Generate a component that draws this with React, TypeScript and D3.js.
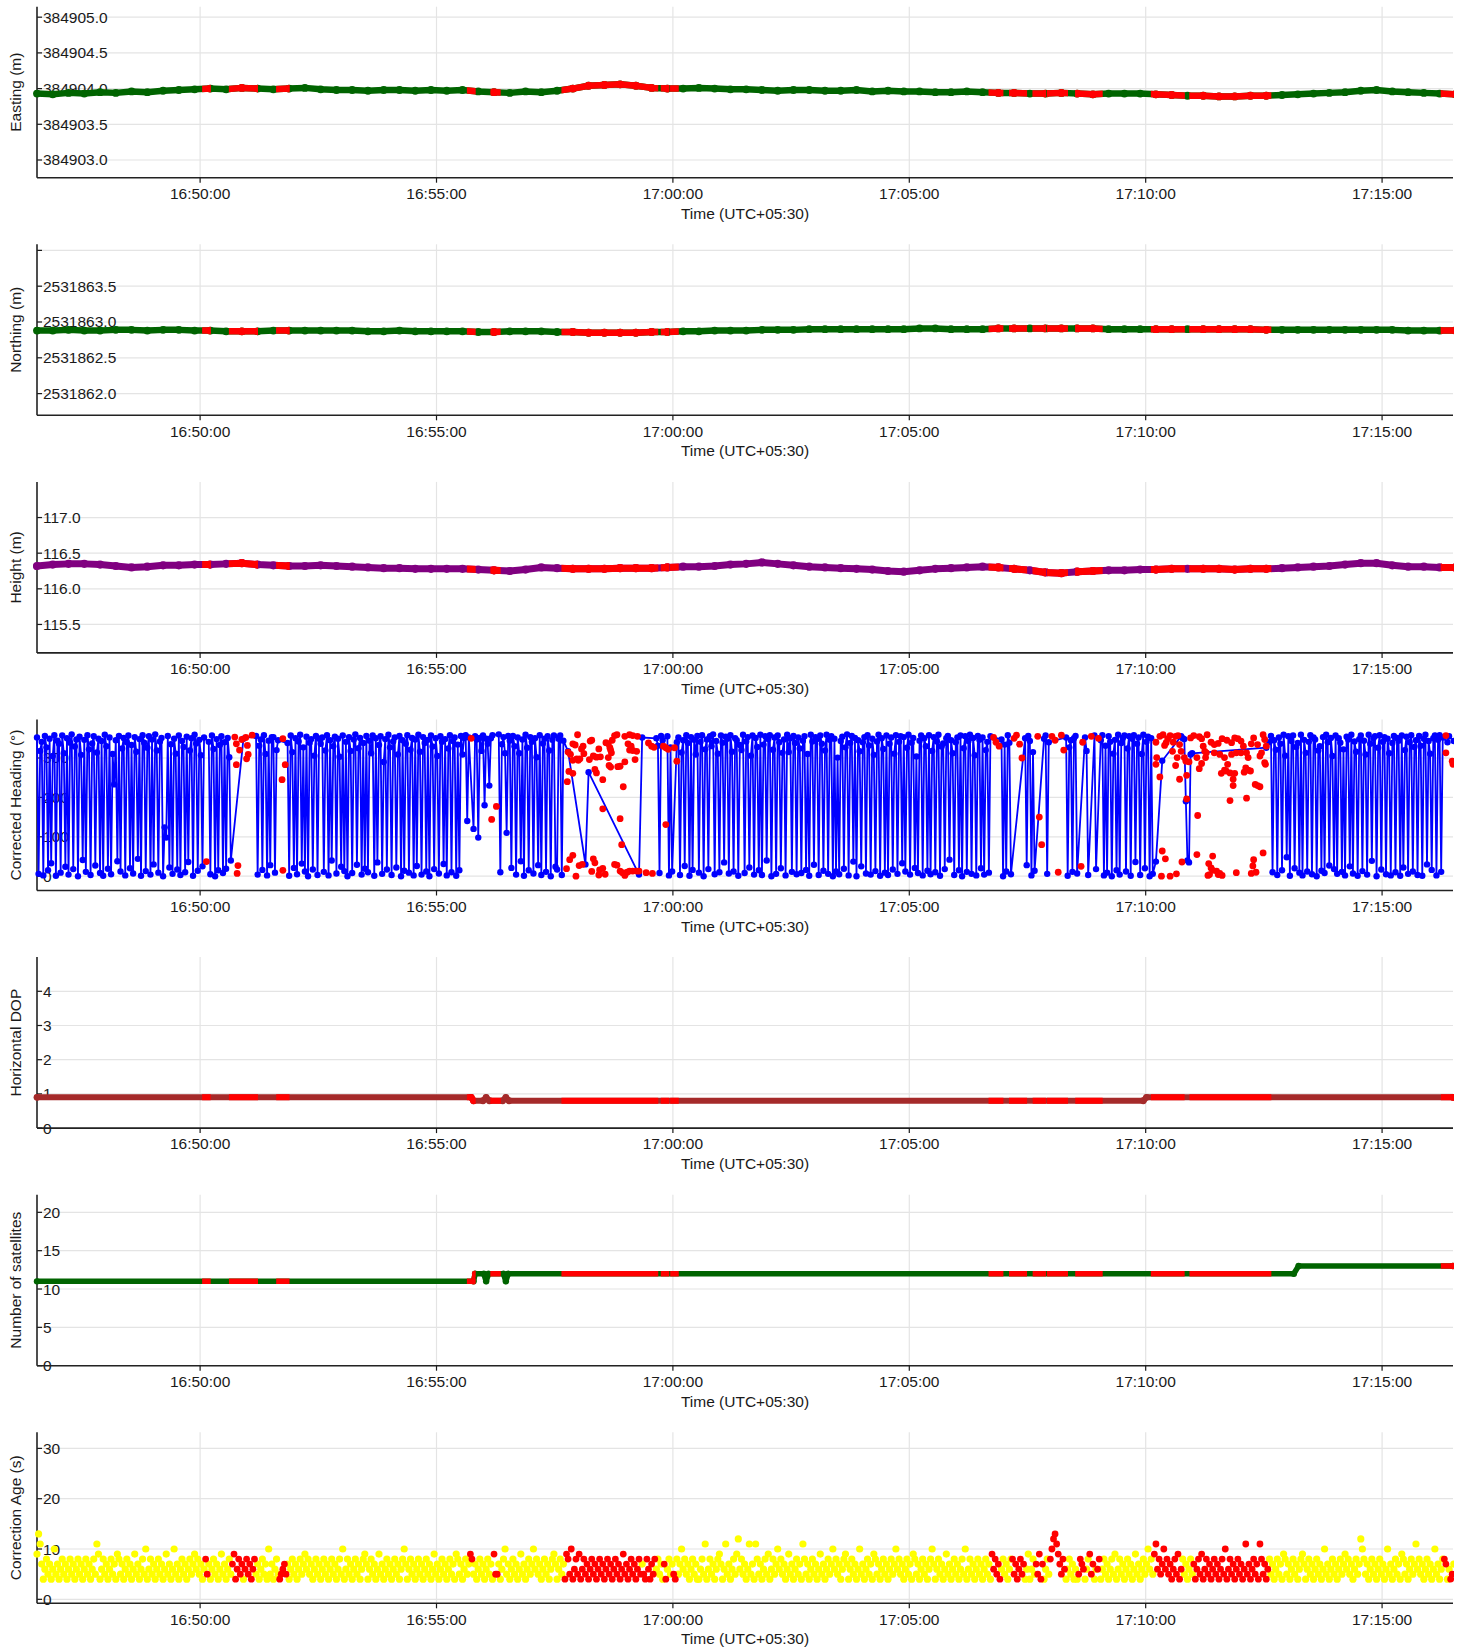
import React from "react";
import * as d3 from "d3";

const n = null;

// every time below is seconds after the first epoch, 16:46:33 (UTC+05:30)
const firstEpoch = Date.UTC(2023, 0, 1, 16, 46, 33);
const lastSec = 1797;

// position solution, one sample every 20 s
const solutionStep = 20;
const easting = [
  384903.93, 384903.92, 384903.94, 384903.93, 384903.95, 384903.94, 384903.96, 384903.95, 384903.97, 384903.98,
  384903.99, 384904.0, 384903.99, 384904.01, 384904.0, 384903.99, 384904.0, 384904.01, 384903.99, 384903.98,
  384903.98, 384903.97, 384903.98, 384903.98, 384903.97, 384903.98, 384903.97, 384903.98, 384903.96, 384903.95,
  384903.94, 384903.96, 384903.95, 384903.97, 384904.0, 384904.04, 384904.05, 384904.06, 384904.04, 384904.01,
  384904.0, 384904.0, 384904.01, 384904.0, 384903.99, 384903.99, 384903.98, 384903.97, 384903.98, 384903.98,
  384903.97, 384903.97, 384903.98, 384903.96, 384903.97, 384903.96, 384903.96, 384903.95, 384903.95, 384903.96,
  384903.95, 384903.94, 384903.94, 384903.93, 384903.93, 384903.94, 384903.93, 384903.92, 384903.93, 384903.93,
  384903.93, 384903.92, 384903.91, 384903.9, 384903.9, 384903.89, 384903.89, 384903.9, 384903.9, 384903.91,
  384903.92, 384903.93, 384903.94, 384903.95, 384903.97, 384903.98, 384903.96, 384903.95, 384903.94, 384903.93,
  384903.92,
];
const northing = [
  2531862.88, 2531862.88, 2531862.89, 2531862.88, 2531862.88, 2531862.89, 2531862.89, 2531862.88, 2531862.89, 2531862.89,
  2531862.88, 2531862.88, 2531862.87, 2531862.87, 2531862.87, 2531862.88, 2531862.88, 2531862.88, 2531862.88, 2531862.88,
  2531862.88, 2531862.87, 2531862.87, 2531862.88, 2531862.87, 2531862.87, 2531862.87, 2531862.87, 2531862.86, 2531862.86,
  2531862.87, 2531862.87, 2531862.87, 2531862.86, 2531862.86, 2531862.85, 2531862.85, 2531862.85, 2531862.85, 2531862.86,
  2531862.86, 2531862.87, 2531862.87, 2531862.88, 2531862.88, 2531862.88, 2531862.89, 2531862.89, 2531862.89, 2531862.9,
  2531862.9, 2531862.9, 2531862.9, 2531862.9, 2531862.9, 2531862.9, 2531862.91, 2531862.91, 2531862.9, 2531862.9,
  2531862.9, 2531862.91, 2531862.91, 2531862.91, 2531862.91, 2531862.91, 2531862.91, 2531862.91, 2531862.9, 2531862.9,
  2531862.9, 2531862.9, 2531862.9, 2531862.9, 2531862.9, 2531862.9, 2531862.9, 2531862.9, 2531862.89, 2531862.89,
  2531862.89, 2531862.89, 2531862.89, 2531862.89, 2531862.89, 2531862.89, 2531862.89, 2531862.88, 2531862.88, 2531862.88,
  2531862.88,
];
const heightM = [
  116.32, 116.34, 116.35, 116.35, 116.34, 116.32, 116.3, 116.31, 116.33, 116.33,
  116.34, 116.34, 116.35, 116.36, 116.34, 116.33, 116.32, 116.32, 116.33, 116.32,
  116.31, 116.3, 116.29, 116.29, 116.28, 116.28, 116.28, 116.28, 116.27, 116.26,
  116.25, 116.27, 116.3, 116.29, 116.28, 116.28, 116.28, 116.29, 116.29, 116.29,
  116.3, 116.31, 116.31, 116.32, 116.34, 116.35, 116.37, 116.35, 116.33, 116.31,
  116.3, 116.29, 116.28, 116.27, 116.25, 116.24, 116.26, 116.28, 116.29, 116.3,
  116.31, 116.3, 116.28, 116.26, 116.23, 116.22, 116.24, 116.25, 116.26, 116.26,
  116.27, 116.27, 116.28, 116.28, 116.28, 116.28, 116.27, 116.28, 116.28, 116.29,
  116.3, 116.31, 116.32, 116.34, 116.36, 116.36, 116.33, 116.31, 116.31, 116.3,
  116.3,
];

// step-wise series: change points
const hdopSec = [0, 551, 554, 566, 570, 574, 591, 595, 599, 1404, 1408, 1797];
const hdopVal = [0.9, 0.9, 0.8, 0.8, 0.9, 0.8, 0.8, 0.9, 0.8, 0.8, 0.9, 0.9];
const satSec = [0, 554, 556, 567, 570, 573, 592, 595, 598, 1595, 1601, 1797];
const satVal = [11, 11, 12, 12, 11, 12, 12, 11, 12, 12, 13, 13];

// corrected heading of the unflagged epochs, one sample every 2 s (one row per minute)
const headingStep = 2;
const headingGood = [
  352, 6, 318, 341, 2, 356, 327, 15, 349, 33, 305, 358, 1, 344, 336, 9, 357, 312, 24, 350, 4, 339, 360, 18, 329, 347, 0, 354, 308, 41,
  346, 11, 358, 322, 3, 337, 355, 27, 314, 349, 8, 343, 1, 359, 330, 19, 352, 5, 310, 233, 345, 38, 356, 12, 324, 351, 2, 340, 357, 20,
  333, 7, 353, 316, 44, 348, 1, 358, 339, 13, 326, 355, 4, 347, 30, 360, 319, 9, 342, 351, 0, 124, 98, 356, 22, 335, 6, 349, 311, 17,
  357, 3, 343, 328, 10, 354, 36, 319, 350, 1, 359, 337, 14, 346, 307, 25, 352, n, n, 341, 5, 357, 323, 0, 348, 15, 333, 355, 8, 340,
  19, 351, 302, 40, n, n, n, n, n, n, n, 349, n, n, n, n, n, n, n, 356, 4, 331, 347, 16, 358, 310, 2, 344, 28, 353,
  353, 9, 320, 345, n, n, n, n, n, 338, 1, 357, 315, 21, 350, 5, 342, 359, 32, 327, 12, 354, 0, 339, 348, 17, 306, 356, 3, 349,
  336, 352, 11, 319, 358, 2, 345, 40, 330, 354, 7, 349, 303, 24, 357, 13, 341, 0, 353, 318, 8, 347, 360, 29, 325, 351, 4, 338, 19, 356,
  10, 344, 312, 357, 1, 350, 35, 333, 355, 6, 290, 348, 17, 359, 327, 3, 342, 352, 22, 309, 356, 0, 345, 14, 336, 358, 9, 321, 351, 2,
  347, 26, 359, 316, 4, 353, 338, 12, 346, 0, 357, 329, 18, 350, 305, 7, 355, 341, 31, 348, 2, 324, 358, 10, 343, 352, 1, 334, 15, 356,
  309, 351, 358, 140, 352, n, n, 120, 355, 347, 98, 351, 318, 357, 180, 349, 336, 230, 350, 358, n, n, n, 360, 10, 335, 353, 312, 110, 356,
  344, 21, 356, 330, 4, 352, 312, 38, 347, 1, 359, 326, 15, 353, 341, 7, 350, 302, 28, 358, 3, 337, 349, 11, 355, 319, 0, 346, 357, 24,
  17, 349, 357, 3, 344, n, n, 317, n, n, n, n, n, n, n, n, n, n, 30, n, 264, n, n, n, n, n, n, n, n, n,
  n, n, n, n, n, n, n, n, n, n, n, n, n, n, n, n, n, n, n, n, n, n, 4, n, 352, n, n, n, n, n,
  n, n, n, 350, 331, 8, 356, 345, n, n, 355, 2, 327, 12, n, n, 340, 352, 3, 314, 345, 26, 358, 338, 1, 353, 16, 346, 309, 356,
  9, 341, 358, 0, 322, 347, 18, 355, 330, 360, 5, 343, 311, 10, 357, 339, 35, 354, 349, 7, 358, 316, 12, 350, 345, 1, 333, 320, 359, 8,
  342, 353, 22, 306, 357, 4, 351, 328, 15, 359, 3, 334, 355, 40, 348, 358, 0, 321, 352, 6, 357, 340, 20, 313, 347, 2, 359, 315, 350, 11,
  356, 338, 5, 352, 324, 8, 344, 355, 16, 310, 1, 359, 342, 29, 353, 348, 3, 357, 336, 14, 319, 359, 6, 346, 355, 0, 349, 12, 301, 5,
  343, 354, 19, 327, 360, 2, 338, 356, 37, 351, 0, 345, 317, 25, 340, 353, 7, 358, 332, 4, 349, 308, 13, 342, 359, 1, 350, 323, 9, 357,
  3, 336, 352, 17, 311, 358, 6, 341, 355, 33, 353, 12, 326, 359, 4, 339, 351, 21, 304, 8, 344, 357, 2, 350, 330, 14, 358, 5, 318, 353,
  10, 342, 359, 1, 329, 337, 18, 350, 356, 42, 345, 312, 3, 340, 352, 15, 357, 0, 325, 355, 11, 343, 359, 6, 351, 307, 2, 356, 346, 20,
  352, 4, 320, 341, 9, 355, n, n, n, n, n, n, 347, 0, 334, 12, 358, 339, 5, n, n, n, n, n, n, n, n, 350, 28, 356,
  343, 2, 315, 14, n, n, n, n, n, 349, 357, 6, 340, n, n, n, n, n, n, n, n, n, n, 352, 1, 327, 345, 11, 350, 356,
  7, n, n, n, n, 352, 318, 3, n, n, n, 357, 18, n, n, 345, 358, 2, 331, 9, 355, 341, 0, 311, 346, 15, 359, 4, 338, 351,
  357, 12, 324, 355, 1, 349, 358, 36, 336, 352, 3, 310, 359, 20, 341, 354, 0, 350, 6, n, 37, n, n, n, 293, n, n, n, n, n,
  n, n, n, n, n, n, 355, 350, 348, 190, 40, 35, 309, 312, n, n, n, n, n, n, n, n, n, n, n, n, n, n, n, n,
  n, n, n, n, n, n, n, n, n, n, n, n, n, n, n, n, n, n, n, n, n, n, n, n, n, n, n, n, n, n,
  326, n, 340, 356, 10, 345, 321, 3, 352, 336, 15, 359, 306, 48, 355, 1, 343, 357, 20, 328, 338, 9, 359, 2, 346, 313, 12, 341, 358, 5,
  352, 347, 0, 319, 330, 14, 353, 8, 359, 340, 27, 351, 305, 18, 357, 6, 350, 339, 11, 322, 2, 354, 347, 25, 359, 7, 342, 316, 1, 348,
  357, 13, 344, 309, 4, 359, 336, 39, 350, 355, 0, 326, 358, 17, 341, 353, 5, 349, 312, 2, 338, 356, 10, 351, 344, 1, 357, 22, 320, 354,
  6, 340, 358, 12, 328, 345, 3, 356, 331, 1, 349, 359, 30, 343, 311, 16, 350, 357, 2, 346, 358, 11, 352, n, n, 340, 355, n, n, 343,
];

// heading of the flagged epochs
const headingBadSec = [
  215, 251, 253, 254, 255, 253, 257, 260, 265, 266, 267, 268, 273, 311, 312, 312, 315,
  551, 577, 583,
  686, 680, 683, 674, 677, 680, 675, 680, 673, 693, 691, 694, 689, 687, 685, 702, 704, 701, 706, 710,
  715, 713, 722, 725, 727, 730, 733, 736, 728, 729, 725, 726, 728, 737, 740, 746, 746, 752, 756, 762,
  750, 752, 756, 759, 754, 761, 708, 710, 718, 744, 718, 740, 742, 680, 676, 672, 684, 688, 692, 706,
  708, 704, 713, 714, 718, 721, 733, 736, 740, 743, 746, 749, 752, 756, 761, 764, 773, 781, 776, 780,
  783, 795, 798, 801, 798, 809, 812,
  1214, 1217, 1221, 1240, 1243, 1247, 1250, 1270, 1272, 1275, 1288, 1292, 1296, 1300, 1303, 1325, 1327, 1338, 1347,
  1420, 1425, 1429, 1433, 1431, 1435, 1438, 1442, 1445, 1448, 1441, 1450, 1452, 1447, 1421, 1420, 1425, 1450, 1445, 1456,
  1458, 1462, 1459, 1459, 1464, 1468, 1475, 1478, 1485, 1480, 1482, 1483, 1472, 1475, 1478, 1484, 1490, 1494, 1499, 1504,
  1510, 1516, 1520, 1524, 1528, 1531, 1535, 1494, 1501, 1507, 1516, 1522, 1528, 1537, 1541, 1544, 1549, 1556, 1558, 1560,
  1554, 1552, 1558, 1511, 1509, 1503, 1507, 1514, 1520, 1518, 1518, 1534, 1537, 1532, 1540, 1546, 1549, 1552, 1514, 1535,
  1473, 1428, 1432, 1453, 1472, 1487, 1492, 1490, 1486, 1492, 1497, 1499, 1501, 1504, 1488, 1522, 1541, 1547, 1543, 1544,
  1556, 1427, 1438, 1446, 1559,
  1788, 1788, 1796, 1797,
];
const headingBadDeg = [
  37, 353, 336, 7, 27, 283, 320, 347, 352, 298, 332, 309, 358, 245, 349, 15, 283,
  350, 144, 177,
  359, 336, 333, 315, 309, 294, 266, 261, 240, 330, 323, 311, 298, 294, 298, 343, 345, 296, 305, 302,
  303, 323, 339, 336, 326, 345, 357, 359, 320, 313, 301, 281, 277, 278, 279, 290, 355, 359, 357, 355,
  336, 320, 319, 296, 330, 317, 271, 262, 245, 227, 171, 146, 80, 53, 42, 19, 0, 27, 30, 44,
  34, 12, 3, 16, 20, 5, 30, 28, 13, 9, 2, 10, 13, 13, 13, 13, 9, 7, 338, 330,
  327, 330, 326, 322, 131, 326, 292,
  352, 340, 330, 350, 358, 335, 300, 355, 150, 80, 355, 345, 10, 358, 320, 25, 340, 355, 350,
  340, 355, 359, 339, 332, 349, 357, 340, 355, 357, 317, 334, 317, 301, 301, 284, 252, 246, 281, 301,
  292, 290, 256, 196, 351, 357, 354, 349, 359, 330, 317, 301, 301, 273, 286, 313, 340, 334, 337, 349,
  345, 339, 351, 349, 343, 330, 313, 313, 309, 301, 309, 313, 313, 301, 336, 351, 334, 359, 347, 330,
  313, 305, 288, 284, 267, 261, 269, 262, 261, 246, 230, 275, 269, 264, 267, 233, 230, 227, 192, 198,
  154, 64, 44, 36, 55, 32, 51, 21, 2, 15, 13, 4, 7, 2, 4, 9, 7, 10, 26, 42,
  59, 0, 0, 6, 284,
  357, 313, 292, 284,
];

// correction age, one sample every 2 s (one row per minute)
const ageStep = 2;
const correctionAge = [
  9, 13, 11, 7, 4, 6, 8, 5, 7, 4, 6, 10, 5, 7, 4, 6, 8, 5, 7, 4, 6, 8, 5, 7, 4, 6, 8, 5, 7, 4,
  6, 8, 5, 7, 4, 6, 8, 5, 11, 9, 4, 6, 8, 5, 7, 4, 6, 8, 5, 7, 4, 9, 8, 5, 7, 4, 6, 8, 5, 7,
  4, 6, 9, 5, 7, 4, 6, 8, 5, 10, 4, 6, 8, 5, 7, 4, 6, 8, 5, 7, 4, 6, 9, 5, 7, 4, 6, 10, 5, 7,
  4, 6, 8, 5, 7, 4, 6, 8, 5, 7, 9, 6, 8, 5, 7, 4, 6, 8, 5, 7, 4, 6, 8, 5, 7, 4, 6, 9, 5, 7,
  4, 6, 8, 5, 7, 9, 4, 6, 8, 5, 7, 4, 6, 8, 5, 7, 4, 6, 8, 5, 7, 4, 6, 8, 5, 7, 4, 10, 5, 7,
  4, 6, 8, 5, 4, 5, 6, 7, 5, 7, 4, 6, 8, 5, 7, 4, 6, 8, 5, 7, 9, 6, 8, 5, 7, 4, 6, 8, 5, 7,
  4, 6, 8, 5, 7, 4, 6, 8, 5, 7, 4, 6, 8, 5, 10, 4, 6, 8, 5, 7, 4, 6, 8, 5, 7, 4, 6, 8, 9, 7,
  4, 6, 8, 5, 7, 4, 6, 9, 5, 7, 4, 6, 8, 5, 7, 4, 6, 8, 5, 7, 4, 6, 8, 10, 7, 4, 6, 8, 5, 7,
  4, 6, 8, 5, 7, 4, 6, 8, 5, 7, 4, 6, 9, 5, 7, 4, 6, 8, 5, 7, 4, 6, 8, 5, 7, 4, 9, 8, 5, 7,
  4, 6, 8, 5, 7, 9, 8, 5, 7, 4, 6, 8, 5, 7, 4, 6, 8, 5, 7, 4, 9, 5, 5, 7, 4, 6, 8, 10, 5, 7,
  4, 6, 8, 5, 7, 4, 6, 9, 5, 7, 4, 6, 8, 5, 7, 10, 6, 8, 5, 7, 4, 6, 8, 5, 7, 4, 6, 8, 9, 7,
  4, 6, 8, 5, 7, 4, 9, 8, 5, 10, 4, 6, 8, 5, 9, 4, 6, 8, 5, 7, 4, 6, 8, 5, 7, 4, 6, 8, 5, 7,
  4, 6, 8, 5, 7, 4, 6, 8, 5, 7, 4, 6, 9, 5, 7, 4, 6, 8, 5, 7, 4, 6, 8, 5, 7, 5, 4, 8, 6, 4,
  7, 5, 8, 6, 8, 5, 7, 4, 7, 4, 6, 8, 5, 7, 5, 4, 8, 5, 7, 10, 6, 8, 5, 7, 4, 6, 8, 5, 7, 4,
  4, 6, 8, 5, 11, 4, 6, 8, 5, 7, 4, 6, 8, 9, 7, 4, 6, 11, 5, 7, 4, 6, 8, 5, 9, 12, 6, 8, 5, 7,
  4, 6, 11, 5, 7, 4, 11, 8, 5, 7, 4, 6, 8, 5, 9, 4, 6, 8, 5, 7, 10, 6, 8, 5, 7, 4, 6, 9, 5, 7,
  4, 6, 8, 5, 7, 4, 11, 8, 5, 7, 4, 6, 8, 5, 7, 4, 6, 9, 5, 7, 4, 6, 8, 5, 7, 10, 6, 8, 5, 7,
  4, 6, 8, 9, 7, 4, 6, 8, 5, 7, 4, 6, 10, 5, 7, 4, 6, 8, 5, 7, 4, 9, 8, 5, 7, 4, 6, 8, 5, 7,
  4, 6, 8, 5, 7, 10, 6, 8, 5, 7, 4, 6, 8, 5, 7, 4, 9, 8, 5, 7, 4, 6, 8, 5, 7, 4, 6, 8, 10, 7,
  4, 6, 8, 5, 7, 4, 6, 9, 5, 7, 4, 6, 8, 5, 7, 4, 6, 8, 5, 10, 4, 6, 8, 5, 7, 4, 6, 8, 5, 7,
  4, 6, 8, 5, 7, 4, 9, 6, 8, 5, 7, 4, 6, 8, 5, 7, 4, 6, 8, 8, 5, 7, 4, 6, 8, 5, 7, 4, 6, 9,
  4, 6, 8, 5, 7, 5, 9, 4, 7, 4, 6, 8, 5, 8, 10, 12, 13, 11, 9, 7, 5, 8, 6, 4, 6, 8, 5, 7, 4, 6,
  4, 5, 8, 7, 6, 4, 6, 8, 9, 5, 7, 4, 6, 6, 8, 4, 6, 8, 5, 7, 4, 6, 8, 5, 9, 4, 6, 8, 5, 7,
  4, 6, 8, 5, 7, 4, 6, 9, 5, 7, 4, 6, 8, 5, 7, 10, 6, 8, 5, 9, 11, 6, 8, 5, 7, 10, 6, 8, 5, 7,
  4, 6, 8, 5, 9, 4, 6, 8, 5, 7, 4, 6, 8, 5, 7, 4, 6, 8, 5, 9, 4, 6, 8, 5, 7, 4, 6, 8, 5, 7,
  4, 6, 8, 5, 10, 4, 6, 8, 5, 7, 4, 6, 8, 5, 7, 4, 6, 11, 5, 7, 4, 6, 8, 5, 7, 4, 11, 8, 5, 7,
  4, 6, 8, 5, 7, 4, 6, 8, 5, 7, 4, 9, 8, 5, 7, 4, 6, 8, 5, 7, 4, 6, 8, 9, 7, 4, 6, 8, 5, 7,
  4, 6, 8, 5, 7, 4, 6, 10, 5, 7, 4, 6, 8, 5, 7, 4, 6, 8, 5, 7, 9, 6, 8, 5, 7, 4, 6, 8, 5, 7,
  12, 10, 8, 5, 7, 4, 6, 8, 5, 7, 4, 6, 8, 5, 7, 4, 6, 10, 5, 7, 4, 6, 8, 5, 7, 4, 9, 8, 5, 7,
  4, 6, 8, 5, 7, 11, 6, 8, 5, 7, 4, 6, 8, 5, 7, 4, 6, 10, 5, 7, 4, 6, 8, 8, 7, 4, 6, 4, 5, 7,
];

// epochs flagged by the quality check [from, to]
const flaggedSec = [
  [214, 216], [248, 260], [264, 276], [308, 316], [550, 552], [580, 584], [670, 698], [700, 766],
  [770, 784], [796, 798], [808, 810], [1212, 1222], [1238, 1252], [1268, 1276], [1286, 1304],
  [1322, 1328], [1336, 1340], [1346, 1348], [1418, 1452], [1467, 1562], [1786, 1788], [1794, 1797],
];

const eastingTicks = [384903.0, 384903.5, 384904.0, 384904.5, 384905.0];
const northingTicks = [2531862.0, 2531862.5, 2531863.0, 2531863.5, 2531864.0];
const heightTicks = [115.5, 116.0, 116.5, 117.0];
const headingTicks = [0, 100, 200, 300];
const hdopTicks = [0, 1, 2, 3, 4];
const satTicks = [0, 5, 10, 15, 20];
const ageTicks = [0, 10, 20, 30];

// layout
const W = 1464;
const H = 1650;
const left = 37;
const right = 1453;
const firstBottom = 177.7;
const panelStep = 237.6;
const plotH = 171;
const FONT = '"Liberation Sans", Arial, Helvetica, sans-serif';
const FS = 15.5;
const GRID = "#e4e4e4";
const INK = "#1a1a1a";
const RED = "#ff0000";

const at = (s: number) => new Date(firstEpoch + s * 1000);
const x = d3.scaleUtc().domain([at(0), at(lastSec)]).range([left, right]);
const xTicks = x.ticks(d3.utcMinute.every(5) as any);
const timeFmt = d3.utcFormat("%H:%M:%S");
const f1 = d3.format(".1f");
const f0 = d3.format("d");
const isFlagged = (s: number) => flaggedSec.some(([a, b]) => s >= a && s <= b);

type Scale = d3.ScaleLinear<number, number>;

function Panel({ i, domain, ticks, fmt, label, children }: {
  i: number; domain: number[]; ticks: number[]; fmt: (v: number) => string; label: string;
  children: (y: Scale) => React.ReactNode;
}) {
  const bottom = firstBottom + i * panelStep;
  const top = bottom - plotH;
  const y = d3.scaleLinear().domain(domain).range([bottom, top]);
  const mid = (top + bottom) / 2;
  return (
    <g>
      <defs>
        <clipPath id={`plot${i}`}>
          <rect x={left - 4} y={top - 4} width={right - left + 5} height={plotH + 8} />
        </clipPath>
      </defs>
      {xTicks.map((t) => (
        <line key={+t} x1={x(t)} x2={x(t)} y1={top} y2={bottom} stroke={GRID} strokeWidth={1.2} />
      ))}
      {ticks.map((v) => (
        <line key={"g" + v} x1={left} x2={right} y1={y(v)} y2={y(v)} stroke={GRID} strokeWidth={1.2} />
      ))}
      {ticks.map((v) => (
        <line key={"t" + v} x1={left} x2={left + 5} y1={y(v)} y2={y(v)} stroke={INK} strokeWidth={1.2} />
      ))}
      {ticks.filter((v) => y(v) - 7 >= top).map((v) => (
        <text key={"l" + v} x={left + 6} y={y(v) + 5.5} fill={INK}>{fmt(v)}</text>
      ))}
      <line x1={left} x2={left} y1={top} y2={bottom} stroke="#222" strokeWidth={1.6} />
      <line x1={left} x2={right} y1={bottom} y2={bottom} stroke="#222" strokeWidth={1.6} />
      {xTicks.map((t) => (
        <g key={"x" + +t}>
          <line x1={x(t)} x2={x(t)} y1={bottom} y2={bottom + 5} stroke={INK} strokeWidth={1.2} />
          <text x={x(t)} y={bottom + 21.3} textAnchor="middle" fill={INK}>{timeFmt(t)}</text>
        </g>
      ))}
      <text x={(left + right) / 2} y={bottom + 41} textAnchor="middle" fill={INK}>Time (UTC+05:30)</text>
      <text transform={`translate(21,${mid}) rotate(-90)`} textAnchor="middle" fill={INK}>{label}</text>
      <g clipPath={`url(#plot${i})`}>{children(y)}</g>
    </g>
  );
}

// line with markers, then the same in red where the epochs are flagged
function Track({ sec, vals, y, color, width, r }: {
  sec: number[]; vals: number[]; y: Scale; color: string; width: number; r: number;
}) {
  const pts: [number, number][] = sec.map((s, k) => [x(at(s)), y(vals[k])]);
  const d = d3.line()(pts) || "";
  const draw = (c: string) => (
    <>
      <path d={d} fill="none" stroke={c} strokeWidth={width} strokeLinejoin="round" strokeLinecap="round" />
      {pts.map(([px, py], k) => <circle key={k} cx={px} cy={py} r={r} fill={c} />)}
    </>
  );
  return (
    <g>
      {draw(color)}
      <g clipPath="url(#flagged)">{draw(RED)}</g>
    </g>
  );
}

const gridSec = (arr: unknown[], step: number) => arr.map((_, k) => k * step);

export default function App() {
  const headingPts = headingGood
    .map((v, k) => (v == null ? null : [k * headingStep, v]))
    .filter((p): p is number[] => p != null);

  return (
    <div style={{ position: "absolute", left: 0, top: 0 }}>
      <svg width={W} height={H} style={{ display: "block", background: "#fff" }}
        fontFamily={FONT} fontSize={FS}>
        <defs>
          <clipPath id="flagged">
            {flaggedSec.map(([a, b], k) => (
              <rect key={k} x={x(at(a)) - 3.5} y={0} width={x(at(b)) - x(at(a)) + 7} height={H} />
            ))}
          </clipPath>
        </defs>
        <rect width={W} height={H} fill="#fff" />

        <Panel i={0} domain={[384902.752, 384905.147]} ticks={eastingTicks} fmt={f1} label="Easting (m)">
          {(y) => <Track sec={gridSec(easting, solutionStep)} vals={easting} y={y} color="#006400" width={6.5} r={3.9} />}
        </Panel>

        <Panel i={1} domain={[2531861.697, 2531864.085]} ticks={northingTicks} fmt={f1} label="Northing (m)">
          {(y) => <Track sec={gridSec(northing, solutionStep)} vals={northing} y={y} color="#006400" width={6.5} r={3.9} />}
        </Panel>

        <Panel i={2} domain={[115.101, 117.5]} ticks={heightTicks} fmt={f1} label="Height (m)">
          {(y) => <Track sec={gridSec(heightM, solutionStep)} vals={heightM} y={y} color="#800080" width={7} r={4.1} />}
        </Panel>

        <Panel i={3} domain={[-36.3, 397.7]} ticks={headingTicks} fmt={f0} label="Corrected Heading (°)">
          {(y) => {
            const pts: [number, number][] = headingPts.map(([s, v]) => [x(at(s)), y(v)]);
            return (
              <g>
                <path d={d3.line()(pts) || ""} fill="none" stroke="#0000ff" strokeWidth={1.8} />
                {pts.map(([px, py], k) => <circle key={k} cx={px} cy={py} r={3.2} fill="#0000ff" />)}
                {headingBadSec.map((s, k) => (
                  <circle key={"r" + k} cx={x(at(s))} cy={y(headingBadDeg[k])} r={3.4} fill={RED} />
                ))}
              </g>
            );
          }}
        </Panel>

        <Panel i={4} domain={[0, 5]} ticks={hdopTicks} fmt={f0} label="Horizontal DOP">
          {(y) => <Track sec={hdopSec} vals={hdopVal} y={y} color="#a52a2a" width={6} r={3.4} />}
        </Panel>

        <Panel i={5} domain={[0, 22.3]} ticks={satTicks} fmt={f0} label="Number of satellites">
          {(y) => <Track sec={satSec} vals={satVal} y={y} color="#006400" width={5.5} r={3.2} />}
        </Panel>

        <Panel i={6} domain={[-0.79, 33.2]} ticks={ageTicks} fmt={f0} label="Correction Age (s)">
          {(y) => {
            const pts = correctionAge.map((v, k) => ({ s: k * ageStep, v }));
            return (
              <g>
                {pts.filter((p) => !isFlagged(p.s)).map((p, k) => (
                  <circle key={k} cx={x(at(p.s))} cy={y(p.v)} r={3.6} fill="#ffff00" />
                ))}
                {pts.filter((p) => isFlagged(p.s)).map((p, k) => (
                  <circle key={"r" + k} cx={x(at(p.s))} cy={y(p.v)} r={3.4} fill={RED} />
                ))}
              </g>
            );
          }}
        </Panel>
      </svg>
    </div>
  );
}
